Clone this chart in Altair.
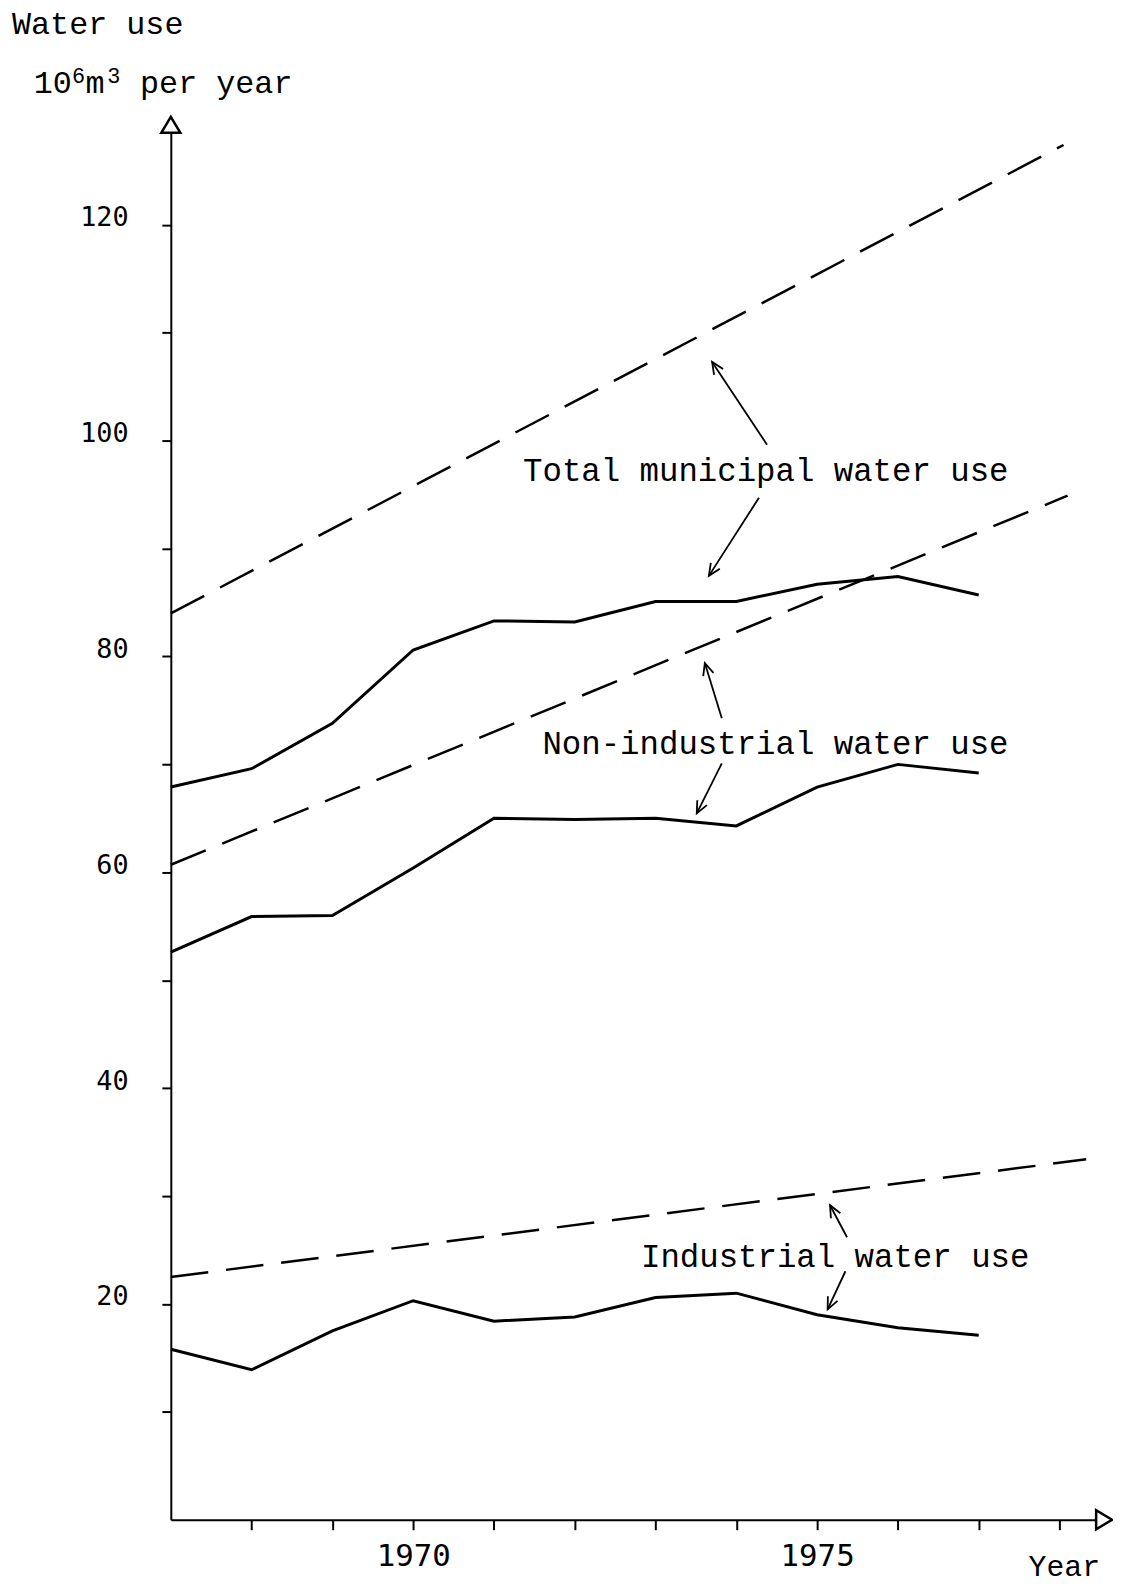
import altair as alt
import pandas as pd

# ---- data ----
years = [1967, 1968, 1969, 1970, 1971, 1972, 1973, 1974, 1975, 1976, 1977]
total_actual = [67.9, 69.6, 73.8, 80.6, 83.3, 83.2, 85.1, 85.1, 86.7, 87.4, 85.7]
nonind_actual = [52.6, 55.9, 56.0, 60.4, 65.0, 64.9, 65.0, 64.3, 67.9, 70.0, 69.2]
ind_actual = [15.8, 13.9, 17.5, 20.3, 18.4, 18.8, 20.6, 21.0, 19.0, 17.8, 17.1]

proj_total_years = [1967, 1978.05]
proj_total = [84.0, 127.4]
proj_nonind_years = [1967, 1978.1]
proj_nonind = [60.7, 94.9]
proj_ind_years = [1967, 1978.33]
proj_ind = [22.5, 33.4]

label_text = ["Total municipal water use", "Non-industrial water use", "Industrial water use"]
label_year = [1971.36, 1971.60, 1972.82]
label_value = [97.2, 71.9, 24.3]

# annotation arrows: start (year, value) -> tip (year, value)
arrow_x1 = [1974.38, 1974.28, 1973.82, 1973.82, 1975.37, 1975.35]
arrow_y1 = [99.63, 94.71, 74.28, 70.10, 26.18, 23.03]
arrow_x2 = [1973.70, 1973.66, 1973.61, 1973.51, 1975.16, 1975.13]
arrow_y2 = [107.3, 87.47, 79.39, 65.46, 29.15, 19.50]
arrow_angle = [327.1, 212.7, 342.8, 206.6, 332.0, 205.3]

x_ticks = [1968, 1969, 1970, 1971, 1972, 1973, 1974, 1975, 1976, 1977, 1978]
y_ticks = [10, 20, 30, 40, 50, 60, 70, 80, 90, 100, 110, 120]

X_MIN, X_MAX = 1967, 1978.65
Y_MIN, Y_MAX = 0, 130

W = 948
H = 1413

xs = alt.Scale(domain=[X_MIN, X_MAX], nice=False, zero=False)
ys = alt.Scale(domain=[Y_MIN, Y_MAX], nice=False, zero=False)

solid = pd.DataFrame(
    {"year": years * 3,
     "value": total_actual + nonind_actual + ind_actual,
     "series": ["total"] * 11 + ["nonind"] * 11 + ["ind"] * 11}
)
proj = pd.DataFrame(
    {"year": proj_total_years + proj_nonind_years + proj_ind_years,
     "value": proj_total + proj_nonind + proj_ind,
     "series": ["total"] * 2 + ["nonind"] * 2 + ["ind"] * 2}
)
labels = pd.DataFrame({"text": label_text, "year": label_year, "value": label_value})
arrows = pd.DataFrame({"x1": arrow_x1, "y1": arrow_y1, "x2": arrow_x2, "y2": arrow_y2,
                       "angle": arrow_angle})

x_axis = alt.Axis(
    values=x_ticks, format="d",
    labelExpr="(datum.value == 1970 || datum.value == 1975) ? datum.label : ''",
    grid=False, tickSize=10, tickWidth=2, tickColor="black",
    domainColor="black", domainWidth=2,
    labelFont="DejaVu Sans Mono", labelFontSize=31, labelColor="black",
    labelPadding=12, labelFlush=False, labelOverlap=False,
)
y_axis = alt.Axis(
    values=y_ticks,
    labelExpr="datum.value % 20 == 0 ? datum.label : ''",
    grid=False, tickSize=9, tickWidth=2, tickColor="black",
    domainColor="black", domainWidth=2,
    labelFont="DejaVu Sans Mono", labelFontSize=27, labelColor="black",
    labelPadding=34, labelFlush=False, labelOverlap=False, labelBaseline="middle",
    labelOffset=-7,
)

base_axes = alt.Chart(solid).mark_line(strokeWidth=3, color="black").encode(
    x=alt.X("year:Q", scale=xs, axis=x_axis, title=None),
    y=alt.Y("value:Q", scale=ys, axis=y_axis, title=None),
    detail="series:N",
)

proj_lines = alt.Chart(proj).mark_line(strokeWidth=2.5, color="black", strokeDash=[38, 18]).encode(
    x=alt.X("year:Q", scale=xs),
    y=alt.Y("value:Q", scale=ys),
    detail="series:N",
)

text_marks = alt.Chart(labels).mark_text(
    font="Liberation Mono", fontSize=32.6, align="left", baseline="middle", color="black"
).encode(
    x=alt.X("year:Q", scale=xs),
    y=alt.Y("value:Q", scale=ys),
    text="text:N",
)

arrow_lines = alt.Chart(arrows).mark_rule(strokeWidth=1.8, color="black").encode(
    x=alt.X("x1:Q", scale=xs), y=alt.Y("y1:Q", scale=ys),
    x2="x2:Q", y2="y2:Q",
)

arrow_heads = alt.Chart(arrows).mark_point(
    shape="M-0.45,1L0,0L0.45,1", filled=False, stroke="black", strokeWidth=1.8, size=576, opacity=1
).encode(
    x=alt.X("x2:Q", scale=xs), y=alt.Y("y2:Q", scale=ys),
    angle=alt.Angle("angle:Q", scale=None),
)

axis_arrow_df = pd.DataFrame({"year": [X_MIN, X_MAX], "value": [Y_MAX, Y_MIN], "angle": [0, 90]})
axis_arrows = alt.Chart(axis_arrow_df).mark_point(
    shape="M0,0L-0.6,1L0.6,1Z", filled=True, fill="white", stroke="black", strokeWidth=2.5,
    size=1024, opacity=1
).encode(
    x=alt.X("year:Q", scale=xs), y=alt.Y("value:Q", scale=ys),
    angle=alt.Angle("angle:Q", scale=None),
)

title_df = pd.DataFrame({
    "t": ["Water use", "10", "6", "m", "3", "per year", "Year"],
    "px": [-160, -138, -99.5, -86, -64, -31, 864],
    "py": [-84, -24, -34, -24, -34, -24, 1470],
    "fs": [32, 32, 22, 32, 22, 32, 30],
})
titles = alt.Chart(title_df).mark_text(
    align="left", baseline="alphabetic", color="black", font="Liberation Mono"
).encode(
    x=alt.X("px:Q", scale=None), y=alt.Y("py:Q", scale=None), text="t:N",
    size=alt.Size("fs:Q", scale=None, legend=None),
)

chart = alt.layer(
    base_axes, proj_lines, arrow_lines, arrow_heads, text_marks, axis_arrows, titles
).properties(
    width=W, height=H,
    autosize=alt.AutoSizeParams(type="none"),
    padding={"left": 164, "top": 104, "right": 1, "bottom": 62},
    background="white",
).configure_view(strokeWidth=0)

chart.save("out.html", embed_options={"renderer": "svg", "actions": False})
